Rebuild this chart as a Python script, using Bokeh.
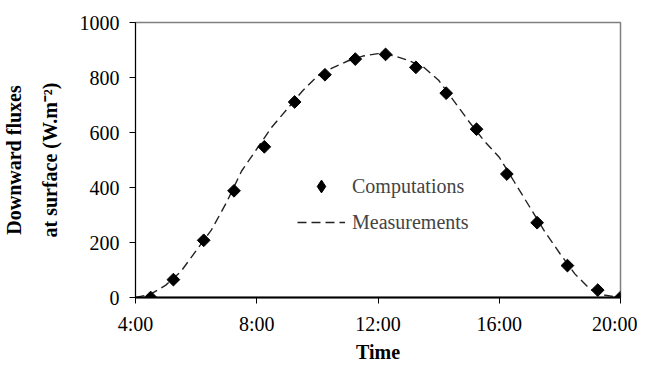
from bokeh.plotting import figure
from bokeh.models import FixedTicker, Legend, LegendItem, Range1d
from bokeh.embed import file_html
from bokeh.resources import INLINE

# Computations (diamonds): hour of day, flux W/m2
comp_hours = [4.5, 5.25, 6.25, 7.25, 8.25, 9.25, 10.25, 11.25, 12.25, 13.25,
              14.25, 15.25, 16.25, 17.25, 18.25, 19.25, 20.0]
comp_flux = [0, 65, 208, 388, 548, 711, 810, 867, 884, 837,
             743, 612, 449, 272, 116, 27, 0]

# Measurements (dashed line)
meas_hours = [4.0, 4.5, 5.0, 5.5, 6.0, 6.5, 7.0, 7.5, 8.0, 8.5, 9.0, 9.5, 10.0,
              10.5, 11.0, 11.5, 12.0, 12.5, 13.0, 13.5, 14.0, 14.5, 15.0, 15.5,
              16.0, 16.5, 17.0, 17.5, 18.0, 18.5, 19.0, 19.5, 20.0]
meas_flux = [0, 12, 45, 95, 170, 245, 345, 460, 540, 620, 685, 750, 805,
             835, 860, 878, 887, 880, 862, 838, 790, 715, 640, 570,
             510, 420, 330, 240, 160, 85, 30, 8, 0]

x_ticks = [4, 8, 12, 16, 20]
x_tick_labels = ["4:00", "8:00", "12:00", "16:00", "20:00"]
y_ticks = [0, 200, 400, 600, 800, 1000]

FONT = "Liberation Serif"

p = figure(width=637, height=365, output_backend="svg", toolbar_location=None,
           x_range=Range1d(4, 20), y_range=Range1d(0, 1000),
           min_border_left=135, min_border_right=17, min_border_top=22,
           min_border_bottom=68)
p.grid.visible = False
p.outline_line_color = "#808080"
p.outline_line_width = 1.5

meas = p.line(meas_hours, meas_flux, line_color="#222222", line_width=1.4,
              line_dash="9 5")
# small diamond hidden under each rotated square; it supplies the legend key
comp_key = p.scatter(comp_hours, comp_flux, marker="diamond", size=8,
                     fill_color="black", line_color="black")
comp = p.scatter(comp_hours, comp_flux, marker="square", size=9, angle=0.785398,
                 fill_color="black", line_color="black")

for ax in (p.xaxis, p.yaxis):
    ax.major_label_text_font = FONT
    ax.major_label_text_font_size = "20px"
    ax.major_label_text_color = "black"
    ax.axis_label_text_font = FONT
    ax.axis_label_text_font_size = "20px"
    ax.axis_label_text_font_style = "bold"
    ax.axis_label_text_color = "black"
    ax.major_tick_in = 0
    ax.major_tick_out = 6
    ax.minor_tick_line_color = None
    ax.axis_line_color = "black"
    ax.major_tick_line_color = "black"

p.xaxis.ticker = FixedTicker(ticks=x_ticks)
p.xaxis.major_label_overrides = {t: l for t, l in zip(x_ticks, x_tick_labels)}
p.xaxis.axis_label = "Time"
p.xaxis.axis_line_width = 2
p.xaxis.major_label_standoff = 9
p.xaxis.axis_label_standoff = 3

p.yaxis.ticker = FixedTicker(ticks=y_ticks)
p.yaxis.axis_label = "Downward fluxes\nat surface (W.m\u207b\u00b2)"
p.yaxis.axis_label_text_line_height = 1.6
p.yaxis.major_label_standoff = 10
p.yaxis.axis_label_standoff = 16

legend = Legend(items=[LegendItem(label="Computations", renderers=[comp_key]),
                       LegendItem(label="Measurements", renderers=[meas])],
                location=(162, 59), border_line_color=None,
                background_fill_alpha=0, padding=0, margin=0, spacing=4,
                glyph_width=48, glyph_height=32, label_height=32,
                label_standoff=7, label_text_font=FONT,
                label_text_font_size="20px")
p.add_layout(legend)

open("out.html", "w").write(file_html(p, INLINE))
